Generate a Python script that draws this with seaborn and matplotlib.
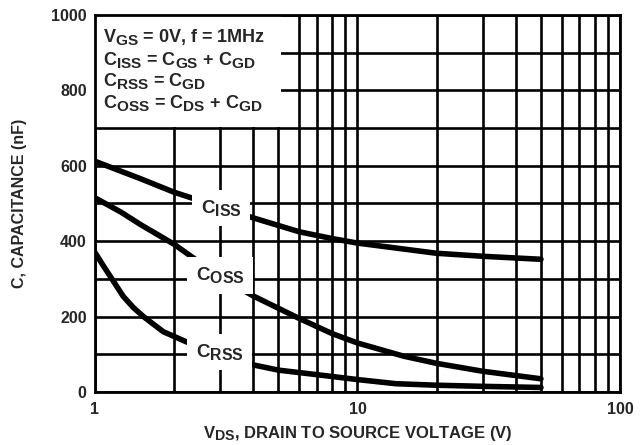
import matplotlib
matplotlib.use('Agg')
import matplotlib.pyplot as plt
import matplotlib._mathtext as mathtext_internals
from matplotlib.patches import Rectangle
import seaborn as sns
import pandas as pd

# values (V_DS in volts, C in nF)
ciss_v = [1, 1.5, 2, 3, 4, 6, 8, 10, 20, 30, 50]
ciss_c = [612, 565, 530, 490, 462, 425, 407, 395, 368, 360, 352]
coss_v = [1, 1.25, 1.5, 2, 3, 4, 6, 8, 10, 15, 20, 30, 50]
coss_c = [515, 478, 443, 392, 305, 255, 195, 155, 130, 95, 76, 55, 35]
crss_v = [1, 1.08, 1.16, 1.28, 1.4, 1.53, 1.82, 2.23, 4, 5, 7, 10, 14, 20, 30, 50]
crss_c = [370, 333, 300, 254, 224, 200, 160, 133, 72, 58, 46, 33, 22, 18, 15, 12]

curve_labels = [r'$\mathrm{C_{ISS}}$', r'$\mathrm{C_{OSS}}$', r'$\mathrm{C_{RSS}}$']
label_v = [3.02, 3.0, 2.98]
label_c = [488, 310, 106]

note_lines = [r'$\mathrm{V_{GS}}$ = 0V, f = 1MHz',
              r'$\mathrm{C_{ISS}}$ = $\mathrm{C_{GS}}$ + $\mathrm{C_{GD}}$',
              r'$\mathrm{C_{RSS}}$ = $\mathrm{C_{GD}}$',
              r'$\mathrm{C_{OSS}}$ = $\mathrm{C_{DS}}$ + $\mathrm{C_{GD}}$']

x_ticks = [1, 10, 100]
y_ticks = [0, 200, 400, 600, 800, 1000]

sns.set_style('white')
plt.rcParams['font.family'] = ['Liberation Sans', 'DejaVu Sans']
plt.rcParams['font.weight'] = 'bold'
plt.rcParams['mathtext.fontset'] = 'custom'
plt.rcParams['mathtext.rm'] = 'Liberation Sans:bold'
plt.rcParams['mathtext.it'] = 'Liberation Sans:bold'
plt.rcParams['mathtext.bf'] = 'Liberation Sans:bold'
# the datasheet subscripts are nearly full size
mathtext_internals.SHRINK_FACTOR = 0.85

df = pd.concat([
    pd.DataFrame({'v': ciss_v, 'c': ciss_c, 'curve': 'ciss'}),
    pd.DataFrame({'v': coss_v, 'c': coss_c, 'curve': 'coss'}),
    pd.DataFrame({'v': crss_v, 'c': crss_c, 'curve': 'crss'}),
])

fig, ax = plt.subplots(figsize=(6.44, 4.45), dpi=100)
fig.subplots_adjust(left=0.1475, right=0.9627, bottom=0.1191, top=0.9663)

sns.lineplot(data=df, x='v', y='c', units='curve', estimator=None,
             color='black', lw=4, ax=ax, zorder=2, legend=False)

ax.set_xscale('log')
ax.set_xlim(1, 100)
ax.set_ylim(0, 1000)
ax.set_xticks(x_ticks, labels=[str(t) for t in x_ticks])
ax.set_xticks([m * d for d in (1, 10) for m in range(2, 10)], minor=True)
ax.set_yticks(y_ticks, labels=[str(t) for t in y_ticks])
ax.set_yticks(range(100, 1000, 200), minor=True)
ax.xaxis.set_minor_formatter(matplotlib.ticker.NullFormatter())
ax.tick_params(which='both', length=0, labelsize=11.5)
ax.tick_params(axis='x', pad=7)
ax.tick_params(axis='y', pad=6)
ax.set_axisbelow(True)
ax.grid(True, which='both', color='black', lw=1.9)
for s in ax.spines.values():
    s.set_color('black')
    s.set_linewidth(2)
    s.set_zorder(4)

# white panel behind the test conditions
ax.add_patch(Rectangle((1, 704), 4.12, 296, facecolor='white',
                       edgecolor='none', zorder=1.5))
for yy, line in zip([0.928, 0.867, 0.812, 0.753], note_lines):
    ax.text(0.016, yy, line, transform=ax.transAxes, fontsize=13,
            va='baseline', ha='left', zorder=3)

for v, c, lab in zip(label_v, label_c, curve_labels):
    ax.text(v, c, lab, fontsize=13.5, ha='center', va='center', zorder=3,
            bbox=dict(boxstyle='square,pad=0.45', facecolor='white', edgecolor='none'))

ax.set_xlabel(r'$\mathrm{V_{DS}}$, DRAIN TO SOURCE VOLTAGE (V)', fontsize=12,
              fontweight='bold')
ax.set_ylabel('C, CAPACITANCE (nF)', fontsize=11.5, fontweight='bold')
ax.xaxis.set_label_coords(0.5, -0.085)
ax.yaxis.set_label_coords(-0.13, 0.5)

plt.savefig('out.png', dpi=100)
plt.close('all')
